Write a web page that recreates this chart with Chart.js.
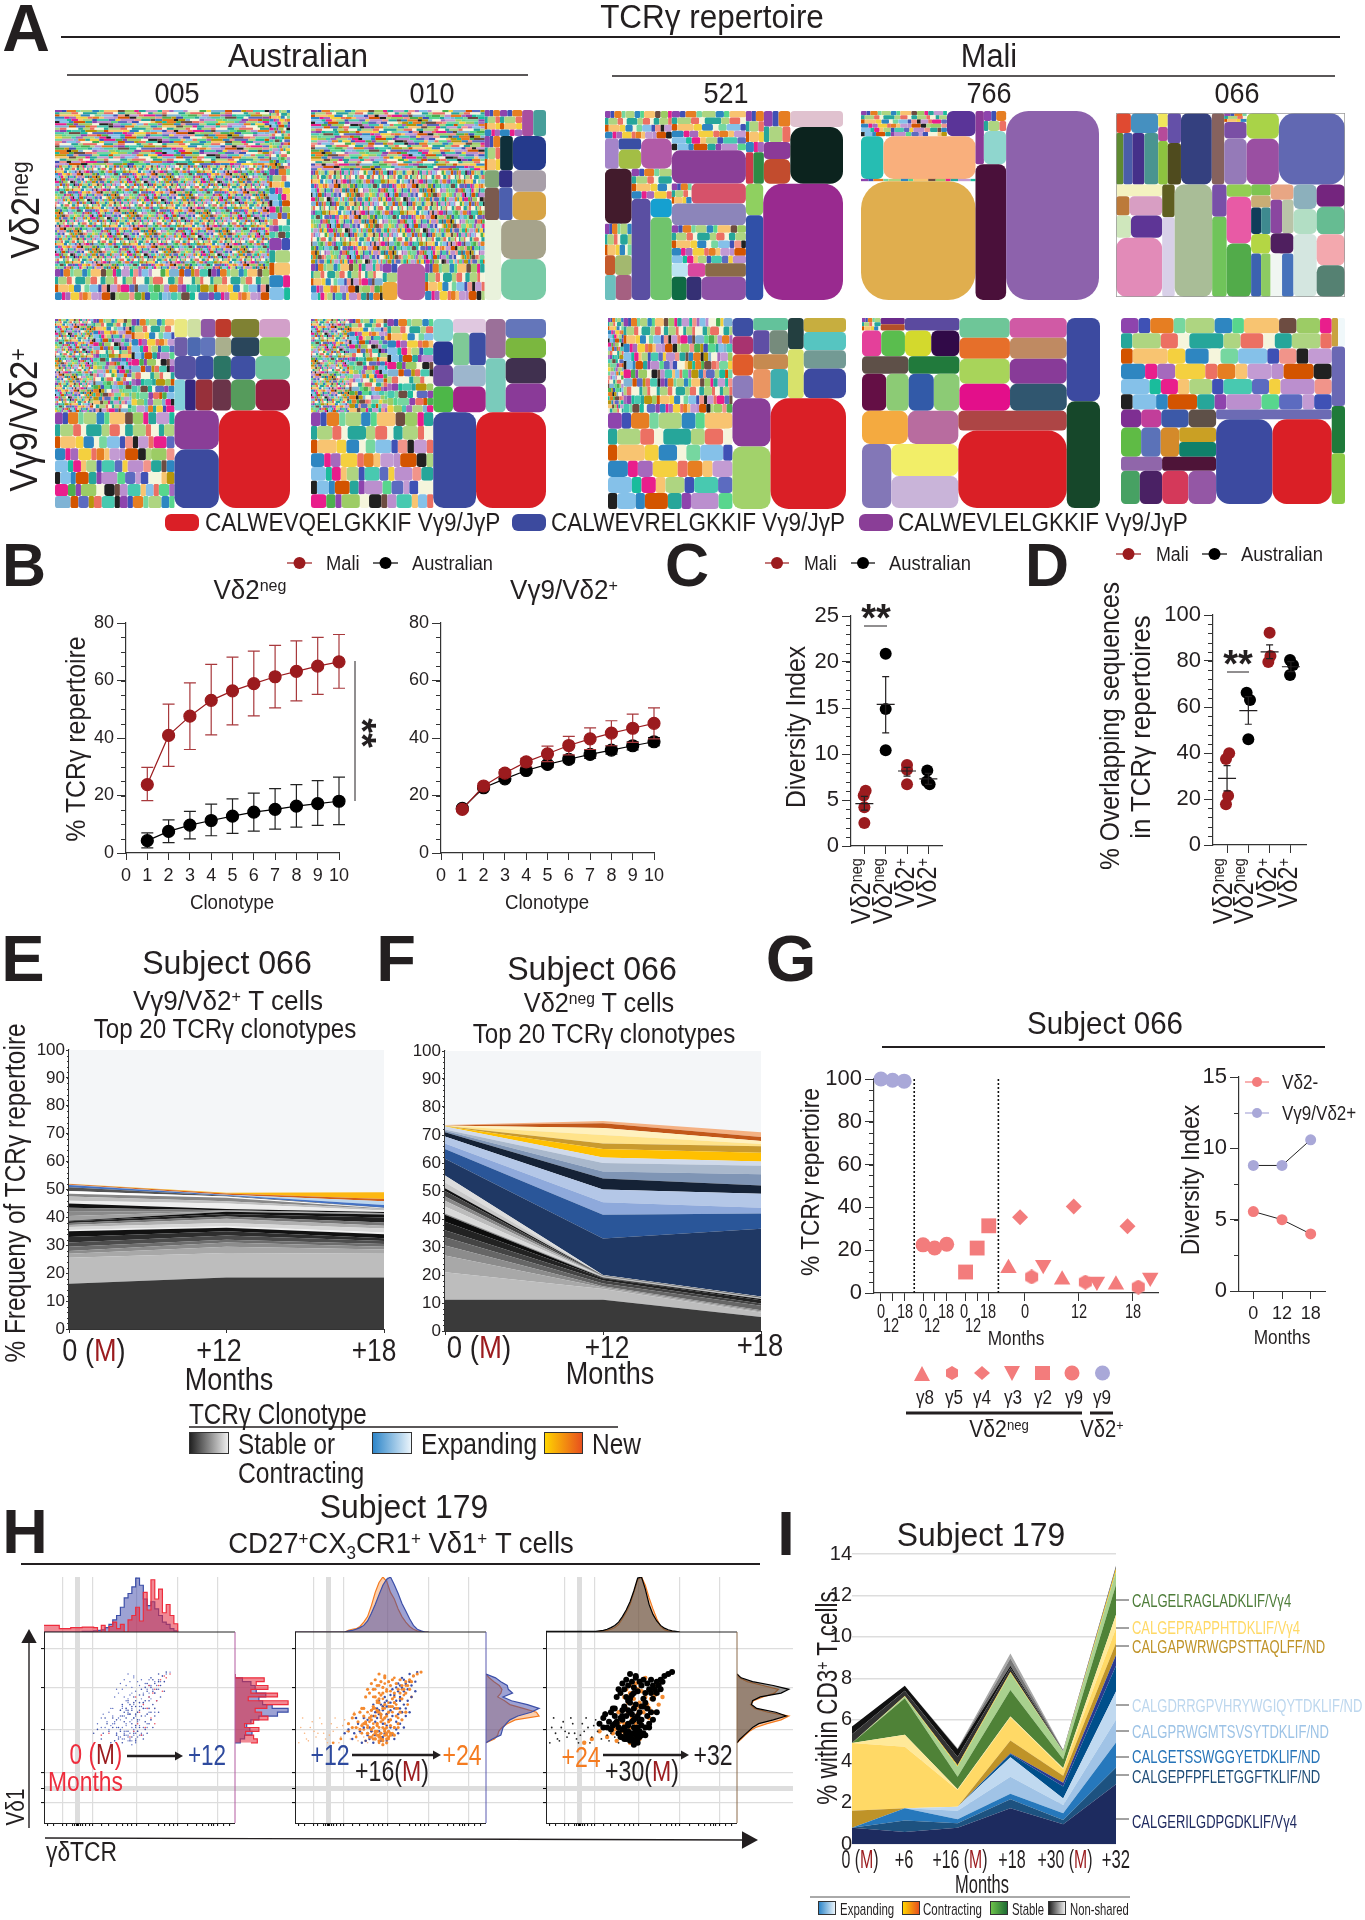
<!DOCTYPE html>
<html>
<head>
<meta charset="utf-8">
<title>TCR repertoire figure</title>
<script src="https://cdn.jsdelivr.net/npm/chart.js@4"></script>
<style>
  body { margin: 0; background: #fff; }
  #page { position: relative; width: 1365px; height: 1920px; overflow: hidden; font-family: "Liberation Sans", Arial, sans-serif; }
  #page canvas { position: absolute; }
  #over { position: absolute; left: 0; top: 0; z-index: 5; }
  .t { position: absolute; white-space: nowrap; line-height: 1; color: #231f20; z-index: 6; }
  .t sup, .t sub { font-size: .62em; line-height: 0; position: relative; vertical-align: baseline; }
  .t sup { top: -.45em; }
  .t sub { top: .3em; }
  .box { position: absolute; z-index: 4; box-sizing: border-box; }
</style>
</head>
<body>
<div id="page"></div>
<script>
// ---------- panel A: clone shares per cell, nested column / row / column ...
function T(a, n, r) { return { a: a, n: n, r: r }; } // a block of n tiny clones sharing area a

const tinyWidths = [3, 2, 4, 2, 5, 3, 2, 6, 3, 4, 2, 3, 5, 2];
const tinyColors = ['#8E44AD','#4CAF50','#E91E8C','#3F51B5','#F4D03F','#26A69A','#E67E22','#7FB3D5','#C39BD3','#76D7A0','#D35400','#1ABC9C','#AED581','#5C6BC0','#F1948A','#2E86C1','#B7950B','#A569BD','#58D68D','#EC7063','#85C1E9','#F8C471','#48C9B0','#BB8FCE','#6D4C41','#212121','#F5F5DC','#9CCC65'];

const neg005 = [[T(896,700,3.5), T(1680,3200,1), T(504,150,.7)], [T(92,120,1), T(108,45,.8), T(97,9,.5)]];
const neg005Colors = [];
const neg010 = [
  [T(794,650,3), T(1226,1300,.6), [T(196,80,.6), [T(20,3,.8),20], 76, T(163,50,.6)]],
  [[T(30,12,.8), T(43.5,12,1), 22, 25], [T(40,10,.6), 33, 86], [[19,35],[17.5,33],[54,72]], [99,[132,139]]]
];
const neg010Colors = ['#EDA93A','#B55FA5','#A94FA0','#479E9A','#0F2F3A','#253A8C','#82A675','#7B5A4E','#322F85','#4C5FAE','#A89FA9','#D7A446','#E9F2DC','#A6A38B','#79CBA6'];
const neg521 = [
  [T(112,48,1), [25,[15,26],56], [[89,T(51,18,.5),[12,20],[16.5,24]], [T(73,22,1),[116,[24,107]]]]],
  [T(177,48,1.6), 150, [T(24,10,.8),66], 97, T(172,50,1), [13,14,33], [21,21,63]],
  [[[T(45,12,.8),[14.4,20]], [T(50,7,.8),27,40], [51,182]], [[33,89],563]]
];
const neg521Colors = ['#A585C9','#3A4FA4','#A3BE45','#B15AA7','#421B2C','#C45A2C','#A3B86F','#6CC0BE','#A56081','#5A4FA2','#15A0D0','#70C46C','#8A3E97','#D6526A','#8C85BA','#BCE4F2','#D9489F','#8A6A48','#0F6B43','#353074','#8E51A5','#CF3A4B','#2F8A45','#8B3A98','#C24C2E','#E0C2CF','#0C231E','#8FD060','#3050A8','#992A8F'];
const neg766 = [
  [[T(132,90,1.5),44], [58,239], T(16,12,3), 828],
  [[27,[T(27,6,.6),45]], 253],
  1068
];
const neg766Colors = ['#5A3498','#26BDB2','#F9AF7C','#E0AE4E','#8B3A98','#8FD6CE','#4A103A','#8D62AC'];
const neg066 = [[
  [[[18,33],[23,28,37,43]], [8,8,25], [24,33], 133, 53.5, [T(12,10,1.3),22.5,62], [50,89], 285],
  [[32.5,[15.7,38],[20,42],165], [24.5,60], 254, [28,70], [18,69,79], [13,14,[16,15],23,[26,25]], [21,[23,23],28,[30,30]], [34,35,88], [38,47,53,54]]
]];
const neg066Colors = ['#E04A31','#4590C0','#5F8A32','#4A5DAA','#45308A','#4A9490','#F0E65C','#B54B9A','#8DC23F','#6450A8','#4F4B1E','#34407F','#86625E','#7A4FA5','#957AB8','#A9D348','#9A4FA2','#6168B2','#F4F2C0','#BC7A3A','#D89EC3','#CFE7BC','#5E3596','#E28BB8','#5F5E20','#D8D0E8','#A9BD97','#7850A8','#70C45A','#92CE52','#E85AA5','#52AB4A','#7DC551','#C9AD75','#0F3D5A','#3E8A8F','#B4D644','#3C62B0','#8DCB62','#E8A684','#8A46A0','#B9C4A8','#4F1F5F','#F0F6F2','#4672BB','#8CB0BC','#B2DEC4','#D4E6E0','#74257E','#66BC92','#F3A8AE','#558172'];

const pos005 = [
  [[T(270,700,1), T(270,240,1), T(302,110,.8)], T(864,110,.75)],
  [[18,18.5,20,21.7,39,42.4], [18.4,18.9,20.5,22.1,40,43.2], [38,31,31,43.5,61], [25,25,40,43,58,81], [[130,197],524]]
];
const pos005Colors = ['#E9E880','#CFE0A2','#8F58A5','#BE3A2C','#7F8133','#D2A0C9','#6E5DA8','#4D6AB1','#6175BB','#A9AF8D','#2A465B','#8ECB5E','#5552A2','#3D4FA2','#2B7565','#3F50A3','#70C69D','#84D0DA','#35287F','#97303A','#6A3449','#569B5C','#9A1D3F','#8A3E97','#3C4A9E','#DA1F26'];
const pos010 = [
  [[T(270,650,1), T(270,200,1), T(324,90,.8)], T(886,80,.75)],
  [[[33.8,35.4,32,39], [34,[40,41],52.7,63.8], [59,81.6], [58,61,78,88]], [310,507]]
];
const pos010Colors = ['#84D4CE','#28368F','#6D4A9D','#4DB748','#E0C8E0','#7FC997','#3C4FA3','#9DB6CD','#A32587','#9B7099','#7ACBBB','#6476BA','#7BB73F','#40304F','#8A3A98','#3C4A9E','#DA1F26'];
const pos521 = [
  [[T(90,140,.6), T(628,240,.55)], T(731,44,.8)],
  [[[23,22.7,27.3,28.6], [26,[24,27],31.5,[31,31]], [30,47], [36,47,47,77]], [[112,145],509]]
];
const pos521Colors = ['#3D4FA3','#A8336F','#E05C2B','#8C7CBB','#63C29B','#5F4FA5','#768B7C','#C68A50','#EA9562','#3FAEAE','#233F40','#D8E26B','#C7AE3F','#56C5C1','#739A94','#3D4AA0','#8A3E98','#A2D26B','#DA1F26'];
const pos766 = [
  [
    [[[T(14,14,1),[9,9],41], [30,37,41,44], [49,54], [54,50,56,57]], [[60,68],[64,72],[76,86],[82,92]]],
    [[[92,101],[113,[130,129]]], [130,506]]
  ],
  [167,214]
];
const pos766Colors = ['#6A2A8A','#B34F2A','#5B4A9F','#E4409A','#5ABD4E','#D3D92D','#310A48','#5E5048','#217A3C','#640F45','#8CCB75','#325AA8','#8CCB75','#6EC698','#D05AA5','#E66F2A','#BF8A62','#A8D45A','#883B98','#E30F8A','#30566F','#F4AA40','#B86C9F','#8377B7','#F2EE68','#C9B4D9','#AD4545','#DA1F26','#3C4AA0','#16472A'];
const pos066 = [
  [T(1171,62,1.25), [[[22,22,30,30],[36,35,33,[33,33]],[35,46],[38,45,53,56]], [70,[290,305]]]],
  [[11,12],48,38,41]
];
const pos066Colors = ['#7E2F92','#C23E9A','#3C59A8','#5E5048','#5FBB45','#5B72B8','#D48A2A','#CAA024','#10806A','#9066AA','#4E1438','#47A163','#4A2164','#D4395A','#9457A5','#6C6BB4','#3C4AA0','#DA1F26','#C9A23F','#F0F8FA','#6A68B4','#1F7A3A','#8CCB45'];

// ---------- panel B
const clonotypes = [1,2,3,4,5,6,7,8,9,10];
const bNegMali = [23.8,40.9,47.6,53.1,56.4,58.9,61.3,63.2,65,66.5];
const bNegMaliHigh = [29.8,51.8,59.2,65.6,68.1,70.2,72.2,73.8,75,76];
const bNegMaliLow = [18.2,30.1,36,41.1,44.6,47.7,50.5,52.9,55.2,57.3];
const bNegAus = [4.3,7.5,9.7,11.3,12.8,14.2,15.2,16.3,17.2,18];
const bNegAusHigh = [7,11.5,14.5,17,18.8,20.8,22.4,23.8,25.2,26.4];
const bNegAusLow = [1.8,3.6,4.9,6,6.8,7.6,8.3,9,9.6,9.9];
const bPosMali = [15.2,23.3,27.8,31.7,34.5,37.4,39.7,41.7,43.4,45.1];
const bPosMaliHigh = [15.5,24.2,29,32.9,37.2,40.6,43.5,46,48.3,50.5];
const bPosMaliLow = [14.4,22,26.5,30,31.8,34.1,36,37.3,38.5,39.7];
const bPosAus = [15.5,22.7,25.8,28.7,30.8,32.6,34.3,35.8,37.3,38.7];
const bPosAusHigh = [16.2,23.4,26.6,29.6,31.8,33.8,35.7,37.2,38.7,40.1];
const bPosAusLow = [14.8,22,25,27.8,29.8,31.4,32.9,34.4,35.9,37.3];

// ---------- panels C, D
const groupPositions = [1,2,3,4];
const cMaliNegX = [1.06,.97,1,1], cMaliNeg = [6,5.5,4.2,2.5];
const cAusNegX = [2,2,2], cAusNeg = [20.9,14.9,10.4];
const cMaliPosX = [3,3,3], cMaliPos = [8.8,8.3,6.7];
const cAusPosX = [3.95,3.93,4.06], cAusPos = [8.2,7,6.7];
const cMeans = [4.6,15.4,8.15,7.3], cHigh = [5.4,18.4,8.55,7.9], cLow = [3.9,12.3,7.6,6.7];
const dMaliNegX = [1.1,.95,1.05,.95], dMaliNeg = [39.9,37.4,21.4,17.7];
const dAusNegX = [1.92,2.08,2], dAusNeg = [66.2,63,46];
const dMaliPosX = [3,3.04,2.94], dMaliPos = [92.3,82.2,79.6];
const dAusPosX = [3.96,4.1,3.96], dAusPos = [80.4,78.3,73.9];
const dMeans = [29,58.4,84,77.5], dHigh = [34.5,64.5,87,79.7], dLow = [23.5,52.5,81,75.4];

// ---------- panels E, F (top edge of each clonotype band, at 0, +12, +18 months)
const stackMonths = ['0','+12','+18'];
const eBands = [[16.2,18.5,18.5],[25.5,27.2,27],[27,29.5,28.5],[28,31,29.5],[29.5,32,30.5],[31,33.5,31.5],[33,35,32.5],[35,36.3,34],[35.5,36.8,34.6],[36.6,38,36],[37.3,39.5,37],[38,40.3,38.2],[38.6,41.2,40],[38.8,42,41],[40.5,42.2,41.2],[42,42.4,41.4],[43.5,42.6,41.6],[45,43,41.9],[46,45,42.5],[47.5,45.8,43],[48.5,47,43.2],[49.5,47.5,43.4],[50.8,47.8,43.5],[51.6,48,44.4],[51.7,48.1,45.8],[52,48.6,46.6],[52.1,48.8,49]];
const eColors = ['#3A3A3A','#BDBDBD','#A8A8A8','#8C8C8C','#6D6D6D','#4D4D4D','#2E2E2E','#111111','#F0F0F0','#D8D8D8','#B0B0B0','#777777','#222222','#111111','#A0A0A0','#8A8A8A','#777777','#111111','#EEEEEE','#C0C0C0','#888888','#FFFFFF','#555555','#4472C4','#BDD7EE','#D2601A','#FDB813'];
const fBands = [[11.2,11.2,5],[21,15,6.6],[27,15.5,7],[30.5,16,7.4],[33.5,17,9],[36,18,9.8],[39,18.8,11],[41.5,19,11.4],[42,19.3,11.6],[44.5,19.4,11.7],[46.5,19.5,11.8],[48,19.6,11.9],[50,19.7,12],[51,19.8,12.1],[53,19.9,12.2],[55.5,20,12.3],[61.5,33,36.5],[65,41.5,42],[67,46,44],[69.5,50.5,49],[71,54.5,52],[71.5,57,56],[72,60,59],[73,62,60.5],[73.1,65,63.7],[73.2,67,66],[73.3,70,66.8],[73.4,72.5,67.9],[73.5,74.2,69.3],[73.6,75,71]];
const fColors = ['#3A3A3A','#BDBDBD','#A8A8A8','#8C8C8C','#666666','#444444','#222222','#0C0C0C','#888888','#D9D9D9','#BBBBBB','#888888','#444444','#111111','#C8C8C8','#DDDDDD','#1F3864','#2A5699','#8EA9DB','#B4C7E7','#152236','#7F95B5','#A9B8CC','#D0DAEA','#FFC000','#C99A2E','#FFE38A','#FFF1BF','#C2571A','#F4B183'];

// ---------- panel G (x is the slot along the axis)
const gDividers = [3.87,11.13];
const gTickSlots = [1,2,3,4.63,5.63,6.67,8.3,9.3,10.3,13.4,18.07,22.73];
const gV2Slots = [1,2,3], gV2 = [100,99.4,99];
const gG9Slots = [4.63,5.63,6.67], gG9 = [22.5,21,22.8];
const gG2Slots = [8.3,9.3,10.3], gG2 = [9.8,21,31.4];
const gG8Slots = [12,16.63,21.27], gG8 = [11.6,6.2,3.9];
const gG4Slots = [13,17.63,22.27], gG4 = [35.4,40.4,31.2];
const gG5Slots = [14,18.63,23.2], gG5 = [7.5,5.1,2.8];
const gG3Slots = [15,19.63,24.23], gG3 = [13.2,5.4,7.3];
const gMonths = ['0','12','18'];
const gDivNeg = [5.57,5,4], gDivPos = [8.8,8.8,10.6];

// ---------- panel H
const flowMajorX = [9.5,17.5,25.7,48.6,69.9,90.7];
const flowMinorX = [2,5,12,15,16,17,18,19,20,22,24,30,34,38,41,44,46,55,60,63,66,68,75,80,83,86,88,89,94,97];
const flowMajorY = [91.3,70.7,49,26.5,18.3,10.5];
const blueX = [46,44,48,43,47,50,41,45,49,42,52,44,47,40,51,46,43,48,50,38,53,45,41,49,46,44,48,47,42,50,56,58,54,57,60,55,53,59,62,58,52,61,55,63,56,54,57,60,64,51,50,53,47,55,51,44,48,56,58,53,46,42,60,49,54,57,40,38,36,34,33,36,37,31,30,28,35,39,32,39,41,45,26,52,48,55,57,54,59,61,56,58,63,52,55];
const blueY = [59,57,61,60,55,63,56,62,58,53,60,64,66,59,56,52,55,64,67,54,64,57,62,54,61,59,57,63,58,59,71,73,69,75,74,72,71,70,77,68,67,72,66,74,76,73,69,78,79,70,50,49,47,52,46,48,51,54,56,53,45,46,58,48,47,50,48,46,50,48,52,55,43,47,44,49,42,50,55,44,42,43,47,44,43,60,62,57,64,66,58,60,69,63,64];
const redX = [52,55,58,60,63,49,54,57,61,47,50,59,56,62,64,53,45,51,58,66,48,55,30,34];
const redY = [62,66,70,72,77,52,60,68,75,48,58,64,55,69,76,50,45,46,52,78,66,72,46,47];
const orangeX = [45,43,47,41,49,44,46,40,48,42,50,38,52,45,47,43,41,49,36,44,46,51,39,42,48,53,55,50,47,45,56,58,54,60,57,52,44,40,37,35,32,28,24,20,47,50,44,41,54,43,48,46,52,38,56,59,49,61,42,45];
const orangeY = [55,58,60,52,63,50,65,56,57,60,54,51,66,47,49,63,46,61,49,68,44,58,53,44,70,62,65,47,52,56,70,72,60,74,67,50,42,48,43,47,45,48,44,42,73,69,72,66,55,52,46,61,76,58,58,62,44,66,70,45];
const blackCoreX = [43,41,45,39,47,42,44,40,46,48,43,38,50,41,45,42,47,44,52,40,37,49,51,54,46,43,56,48,58,60,62,64,66,55,57,59,61,53,50,44,42,40,46,48,52,54,38,36,41,43,45,47,49,50,52,54,56,58,44,46,42,40,38,48,41,43,45,47,49,44,46,48,42,40,50,52,51,53,55,47,49,51,56,58,60,45,43,39,37,35,53,55,47,50,44,46,28,30,32,34,36,30,33,35,37,31,34,38,36,39,41,43,45,47,49,51,40,42,44,46,48];
const blackCoreY = [72,70,74,68,76,66,78,73,71,69,64,70,72,60,67,75,62,63,68,56,66,58,65,70,54,52,72,50,74,75,77,78,79,68,70,72,74,60,54,58,56,54,60,56,50,52,50,52,50,48,47,46,48,46,46,50,54,58,45,43,47,45,47,44,61,59,57,55,53,43,41,42,44,59,61,63,75,73,75,77,74,61,65,68,70,53,51,55,53,51,56,58,49,51,65,68,52,55,50,58,56,50,53,60,52,57,49,47,60,45,44,46,44,48,45,47,49,48,46,50,47];
const tailX = [39,37,35,33,30,34,32,28,36,31,26,22,18,14,10,6,3,24,20,16,12,8,27,23,19,15,11,7,25,21,29,33,17,5,9,13,4,2,31,38];
const tailY = [57,55,52,50,50,47,46,52,45,55,54,50,46,52,48,44,50,45,48,44,47,50,48,42,52,47,45,43,51,55,44,43,42,47,53,55,55,42,58,42];
const histX = [0,8,14,20,26,28,30,32,34,36,38,40,42,44,46,48,50,52,54,56,58,60,62,64,66,68,70];
const p1Blue = [0,0,0,1,2,3,4,8,14,22,30,45,62,70,82,98,85,60,48,55,42,30,18,14,6,2,0];
const p1Red = [12,6,8,9,8,0,12,0,10,18,6,14,0,22,30,45,20,72,40,95,60,78,35,50,30,15,0];
const p2Blue = [0,0,0,0,0,2,3,5,8,12,20,34,50,68,85,96,100,86,70,52,38,24,12,5,2,0,0];
const p2Orange = [0,0,0,0,0,3,5,6,10,18,28,48,72,90,100,92,72,60,42,28,18,10,5,2,1,0,0];
const p3Black = [1,1,1,1,1,2,3,5,8,12,18,28,40,55,75,98,100,78,50,32,20,12,7,4,2,1,0];
const p3Orange = [0,0,0,0,0,1,2,3,5,8,14,24,36,50,72,95,100,85,62,42,24,10,4,2,1,0,0];
const histY = [42,44,46,48,50,52,54,56,58,60,62,64,66,68,70,72,74,76,78];
const p1BlueR = [0,10,18,32,28,22,30,45,80,100,70,52,45,58,40,38,30,14,0];
const p1RedR = [30,42,35,20,45,18,35,62,50,38,60,100,25,80,30,62,40,55,0];
const p2BlueR = [0,12,28,30,32,38,45,60,85,100,78,48,32,50,42,40,28,18,0];
const p2OrangeR = [0,16,22,24,30,40,55,100,95,70,45,35,22,28,30,25,15,6,0];
const p3BlackR = [0,6,14,22,30,42,70,95,75,38,28,30,45,85,100,70,30,8,0];
const p3OrangeR = [0,8,16,24,36,58,85,100,60,34,26,32,50,72,80,50,20,5,0];

// ---------- panel I
const iMonths = ['0','+6','+16','+18','+30','+32'];
const iBands = [[.79,.58,.79,1.72,.95,2.88],[.79,1.13,1,2.16,1.16,3.69],[.79,1.72,1.19,2.42,1.48,4.9],[.79,1.72,1.61,3.25,1.88,6],[.79,1.72,1.8,4.19,2.2,7.36],[.79,1.72,1.8,4.35,2.77,8.6],[.79,1.72,1.8,4.38,2.96,9.13],[1.6,1.72,1.8,5,3.29,9.7],[4.87,4.7,2.61,6.12,3.61,10.42],[4.87,5.27,2.64,6.15,3.66,11.07],[4.87,7.04,3.25,7.44,4.09,12.52],[4.87,7.12,3.74,8.25,4.46,13.16],[4.87,7.15,3.8,8.3,4.46,13.3],[5.3,7.4,4.2,8.5,4.48,13.35],[5.67,7.64,4.57,8.6,4.5,13.4],[5.67,7.64,4.6,8.95,4.52,13.42],[5.67,7.64,4.62,9.2,4.54,13.44]];
const iColors = ['#1D2B5F','#1D5280','#2678BC','#A0C3E6','#C0D9F0','#004F8B','#2A3A90','#BF9328','#FFD966','#FFE999','#4F8237','#A9D18E','#FFC000','#333333','#111111','#777777','#AAAAAA'];
const iClones = ['CALGELRAGLADKLIF/V&gamma;4','CALGEPRAPPHTDKLIF/V&gamma;4','CALGAPWRWGPSTTAQLFF/ND','CALGDRRGPVHRYWGIQYTDKLIF/ND','CALGPRWGMTSVSYTDKLIF/ND','CALGETSSWGGYETDKLIF/ND','CALGEPFPFLETGGFTKLIF/ND','CALGERILGDPGDKLIF/V&gamma;4'];

// ---------- helpers
const page = document.getElementById('page');
const ink = '#231f20', maliRed = '#9B1B1E', pink = '#F37C7C', lav = '#A9A8D8', axisInk = '#333';
Chart.defaults.animation = false;
Chart.defaults.font.family = '"Liberation Sans", Arial, sans-serif';
Chart.defaults.color = ink;
Chart.defaults.plugins.legend.display = false;
Chart.defaults.plugins.tooltip.enabled = false;
// plots sit at exact page positions, so markers must not push the chart area in
['line', 'scatter'].forEach(k => { Chart.registry.getController(k).prototype.getMaxOverflow = () => 0; });

Chart.register({
  id: 'minorTicks',
  afterDraw(chart, a, o) {
    if (!o.step) return;
    const s = chart.scales.y, ctx = chart.ctx;
    ctx.save(); ctx.strokeStyle = axisInk; ctx.lineWidth = 1; ctx.beginPath();
    for (let v = s.min; v <= s.max + 1e-6; v += o.step) {
      const y = Math.round(s.getPixelForValue(v)) + .5;
      ctx.moveTo(s.right - o.len, y); ctx.lineTo(s.right, y);
    }
    ctx.stroke(); ctx.restore();
  }
});
Chart.register({
  id: 'plotBg',
  beforeDatasetsDraw(chart, a, o) {
    if (!o.color) return;
    const c = chart.chartArea;
    chart.ctx.fillStyle = o.color;
    chart.ctx.fillRect(c.left, c.top, c.right - c.left, c.bottom - c.top);
  }
});
Chart.register({
  id: 'errorBars',
  beforeDatasetDraw(chart, args) {
    const d = chart.data.datasets[args.index];
    if (!d.errLow) return;
    const xs = chart.scales.x, ys = chart.scales.y, ctx = chart.ctx;
    ctx.save(); ctx.strokeStyle = d.errColor; ctx.lineWidth = 1.2; ctx.beginPath();
    d.data.forEach((p, i) => {
      const x = xs.getPixelForValue(p.x), hi = ys.getPixelForValue(d.errHigh[i]), lo = ys.getPixelForValue(d.errLow[i]);
      ctx.moveTo(x, hi); ctx.lineTo(x, lo);
      ctx.moveTo(x - d.capW, hi); ctx.lineTo(x + d.capW, hi);
      ctx.moveTo(x - d.capW, lo); ctx.lineTo(x + d.capW, lo);
      if (d.meanW) { const m = ys.getPixelForValue(p.y); ctx.moveTo(x - d.meanW, m); ctx.lineTo(x + d.meanW, m); }
    });
    ctx.stroke(); ctx.restore();
  }
});
const treeCells = {
  id: 'treeCells',
  afterDatasetsDraw(chart) {
    const xs = chart.scales.x, ys = chart.scales.y, ctx = chart.ctx;
    ctx.save();
    chart.data.datasets[0].data.forEach(p => {
      const c = p.cell, x = xs.getPixelForValue(c.x0), y = ys.getPixelForValue(c.y0);
      const w = xs.getPixelForValue(c.x1) - x, h = ys.getPixelForValue(c.y1) - y, m = Math.min(w, h);
      ctx.fillStyle = c.c;
      ctx.beginPath();
      if (m < 4) ctx.rect(x, y, w, h); else ctx.roundRect(x, y, w, h, m * .24);
      ctx.fill();
    });
    const f = chart.options.plugins.treeCells && chart.options.plugins.treeCells.frame;
    if (f) { ctx.strokeStyle = '#999'; ctx.lineWidth = 1.5; ctx.strokeRect(xs.left, ys.top, xs.right - xs.left, ys.bottom - ys.top); }
    ctx.restore();
  }
};

// l, t, r, b are the edges of the plot on the page, m = room for axes [left, top, right, bottom]
function addChart(l, t, r, b, m, config) {
  const c = document.createElement('canvas');
  c.width = r - l + m[0] + m[2];
  c.height = b - t + m[1] + m[3];
  c.style.left = (l - m[0]) + 'px';
  c.style.top = (t - m[1]) + 'px';
  page.appendChild(c);
  const o = config.options = config.options || {};
  o.responsive = false;
  o.layout = { autoPadding: false, padding: { left: 0, top: m[1], right: m[2], bottom: 0 } };
  Object.values(o.scales).forEach(s => {
    s.afterFit = a => {
      if (a.isHorizontal()) a.height = m[3]; else a.width = m[0];
      a.paddingTop = a.paddingBottom = a.paddingLeft = a.paddingRight = 0; // tick labels may hang over the plot edge
    };
  });
  return new Chart(c, config);
}
function zip(xs, ys) { return xs.map((x, i) => ({ x: x, y: ys[i] })); }
function hiddenAxis(min, max, reverse) { return { type: 'linear', display: false, min: min, max: max, reverse: !!reverse }; }
function axis(min, max, step, size, len, pad) {
  return {
    type: 'linear', min: min, max: max,
    grid: { drawOnChartArea: false, color: axisInk, tickLength: len, tickWidth: 1 },
    border: { color: axisInk, width: 1.2 },
    ticks: { stepSize: step, font: { size: size }, padding: pad, autoSkip: false, maxRotation: 0, color: ink }
  };
}
function slotAxis(min, max, slots, len) {
  const a = axis(min, max, 1, 10, len, 0);
  a.afterBuildTicks = s => { s.ticks = slots.map(v => ({ value: v })); };
  a.ticks.callback = () => '';
  return a;
}

// text: x, y is the centre unless o.a says left / right; o.w squeezes it to a measured width
function tx(html, x, y, size, o) {
  o = o || {};
  const e = document.createElement('div');
  e.className = 't';
  e.innerHTML = html;
  e.style.fontSize = size + 'px';
  e.style.left = x + 'px';
  e.style.top = y + 'px';
  if (o.c) e.style.color = o.c;
  if (o.b) e.style.fontWeight = 'bold';
  page.appendChild(e);
  const k = o.w ? o.w / e.offsetWidth : 1;
  const ax = o.a === 'l' ? '0' : o.a === 'r' ? '-100%' : '-50%';
  if (o.a === 'l') e.style.transformOrigin = '0 50%';
  if (o.a === 'r') e.style.transformOrigin = '100% 50%';
  e.style.transform = 'translate(' + ax + ',-50%) rotate(' + (o.rot || 0) + 'deg) scaleX(' + k + ')';
  return e;
}
const svgNS = 'http://www.w3.org/2000/svg';
const over = document.createElementNS(svgNS, 'svg');
over.setAttribute('id', 'over'); over.setAttribute('width', 1365); over.setAttribute('height', 1920);
page.appendChild(over);
function svg(tag, attrs) {
  const e = document.createElementNS(svgNS, tag);
  Object.keys(attrs).forEach(k => e.setAttribute(k, attrs[k]));
  over.appendChild(e);
  return e;
}
function line(x1, y1, x2, y2, c, w) { svg('line', { x1: x1, y1: y1, x2: x2, y2: y2, stroke: c || ink, 'stroke-width': w || 1 }); }
function arrow(x1, y1, x2, y2, w, head) {
  const a = Math.atan2(y2 - y1, x2 - x1), hl = head, hw = head * .55;
  const bx = x2 - Math.cos(a) * hl, by = y2 - Math.sin(a) * hl;
  line(x1, y1, bx, by, ink, w);
  svg('polygon', { fill: ink, points: [x2, y2, bx - Math.sin(a) * hw, by + Math.cos(a) * hw, bx + Math.sin(a) * hw, by - Math.cos(a) * hw].join(' ') });
}
function legendDot(x1, x2, y, c, r) { line(x1, y, x2, y, c, 1.2); svg('circle', { cx: (x1 + x2) / 2, cy: y, r: r || 6, fill: c }); }
function box(x, y, w, h, css) {
  const e = document.createElement('div');
  e.className = 'box';
  e.style.cssText = 'left:' + x + 'px;top:' + y + 'px;width:' + w + 'px;height:' + h + 'px;' + css;
  page.appendChild(e);
}

// ---------- treemap layout: depth 0 splits along x, depth 1 along y, and so on
function total(n) { return typeof n === 'number' ? n : Array.isArray(n) ? n.reduce((s, k) => s + total(k), 0) : n.a; }
function layoutCells(tree, colors, wpx, hpx) {
  const out = [];
  let ci = 0;
  function tile(n, x0, y0, x1, y1) {
    const pw = (x1 - x0) / 100 * wpx, ph = (y1 - y0) / 100 * hpx;
    const cols = Math.max(1, Math.round(Math.sqrt(n.n * (pw / ph) / n.r)));
    const rows = Math.max(1, Math.round(n.n / cols));
    for (let i = 0; i < rows; i++) {
      const ya = y0 + (y1 - y0) * i / rows, yb = y0 + (y1 - y0) * (i + 1) / rows;
      let tot = 0;
      for (let j = 0; j < cols; j++) tot += tinyWidths[(j + i * 3) % tinyWidths.length];
      let p = x0;
      for (let j = 0; j < cols; j++) {
        const q = p + (x1 - x0) * tinyWidths[(j + i * 3) % tinyWidths.length] / tot;
        out.push({ x0: p, y0: ya, x1: q, y1: yb, c: tinyColors[(i * 5 + j * 3 + ((i * j) % 7) * 4) % tinyColors.length] });
        p = q;
      }
    }
  }
  function walk(n, x0, y0, x1, y1, d) {
    if (typeof n === 'number') { out.push({ x0: x0, y0: y0, x1: x1, y1: y1, c: colors[ci++ % colors.length] }); return; }
    if (!Array.isArray(n)) { tile(n, x0, y0, x1, y1); return; }
    const tot = total(n);
    let p = d % 2 ? y0 : x0;
    n.forEach(k => {
      const f = total(k) / tot;
      if (d % 2) { const q = p + (y1 - y0) * f; walk(k, x0, p, x1, q, d + 1); p = q; }
      else { const q = p + (x1 - x0) * f; walk(k, p, y0, q, y1, d + 1); p = q; }
    });
  }
  walk(tree, 0, 0, 100, 100, 0);
  return out;
}
function treemap(l, t, r, b, tree, colors, frame) {
  const cells = layoutCells(tree, colors, r - l, b - t);
  addChart(l, t, r, b, [0, 0, 0, 0], {
    type: 'scatter',
    data: { datasets: [{ data: cells.map(c => ({ x: (c.x0 + c.x1) / 2, y: (c.y0 + c.y1) / 2, cell: c })), pointRadius: 0 }] },
    options: { plugins: { treeCells: { frame: frame } }, scales: { x: hiddenAxis(0, 100), y: hiddenAxis(0, 100, true) } },
    plugins: [treeCells]
  });
}

// ---------- panel A
treemap(55, 110, 290, 300, neg005, neg005Colors);
treemap(311, 110, 546, 300, neg010, neg010Colors);
treemap(605, 111, 843, 300, neg521, neg521Colors);
treemap(861, 111, 1099, 300, neg766, neg766Colors);
treemap(1116, 113, 1345, 297, neg066, neg066Colors, true);
treemap(55, 319, 290, 508, pos005, pos005Colors);
treemap(311, 319, 546, 508, pos010, pos010Colors);
treemap(608, 318, 846, 509, pos521, pos521Colors);
treemap(862, 318, 1100, 508, pos766, pos766Colors);
treemap(1121, 318, 1345, 504, pos066, pos066Colors);

const letters = [['A',26,28,66],['B',24,565,61],['C',687,565,61],['D',1047,565,61],['E',23,958,65],['F',396,958,65],['G',791,958,65],['H',25,1531,63],['I',786,1533,63]];
letters.forEach(a => tx(a[0], a[1], a[2], a[3], { b: 1 }));

tx('TCR&gamma; repertoire', 712, 16, 33, { w: 224 });
line(61, 37, 1340, 37, ink, 2);
tx('Australian', 298, 55, 34, { w: 140 });
line(67, 75, 528, 75, ink, 1.6);
tx('Mali', 989, 55, 34, { w: 56 });
line(612, 76, 1335, 76, ink, 1.6);
[['005',177],['010',432],['521',726],['766',989],['066',1237]].forEach(a => tx(a[0], a[1], 93, 30, { w: 45 }));
tx('V&delta;2<sup>neg</sup>', 25, 210, 40, { rot: -90, w: 98 });
tx('V&gamma;9/V&delta;2<sup>+</sup>', 24, 420, 38, { rot: -90, w: 143 });
box(165, 514, 34, 17, 'background:#DA1F26;border-radius:6px');
tx('CALWEVQELGKKIF V&gamma;9/J&gamma;P', 205, 522, 25, { a: 'l', w: 295 });
box(512, 514, 34, 17, 'background:#3C4A9E;border-radius:6px');
tx('CALWEVRELGKKIF V&gamma;9/J&gamma;P', 551, 522, 25, { a: 'l', w: 294 });
box(859, 514, 34, 17, 'background:#8A3E97;border-radius:6px');
tx('CALWEVLELGKKIF V&gamma;9/J&gamma;P', 898, 522, 25, { a: 'l', w: 290 });

// ---------- panel B
function clonoChart(l, r, mali, mHi, mLo, aus, aHi, aLo) {
  const x = axis(0, 10, 1, 18, 7, 5), y = axis(0, 80, 20, 18, 9, 3);
  addChart(l, 623, r, 853, [50, 14, 20, 40], {
    type: 'line',
    data: { datasets: [
      { data: zip(clonotypes, mali), borderColor: maliRed, backgroundColor: maliRed, borderWidth: 1.2, pointRadius: 6, clip: false, errLow: mLo, errHigh: mHi, errColor: '#A8393C', capW: 6 },
      { data: zip(clonotypes, aus), borderColor: '#000', backgroundColor: '#000', borderWidth: 1.2, pointRadius: 6, clip: false, errLow: aLo, errHigh: aHi, errColor: '#222', capW: 6 }
    ] },
    options: { plugins: { minorTicks: { step: 5, len: 5 } }, scales: { x: x, y: y } }
  });
}
clonoChart(126, 339, bNegMali, bNegMaliHigh, bNegMaliLow, bNegAus, bNegAusHigh, bNegAusLow);
clonoChart(441, 654, bPosMali, bPosMaliHigh, bPosMaliLow, bPosAus, bPosAusHigh, bPosAusLow);
legendDot(287, 312, 563, maliRed);
tx('Mali', 326, 563, 20, { a: 'l', w: 34 });
legendDot(373, 398, 563, '#000');
tx('Australian', 412, 563, 20, { a: 'l', w: 81 });
tx('V&delta;2<sup>neg</sup>', 250, 590, 27, { w: 73 });
tx('V&gamma;9/V&delta;2<sup>+</sup>', 564, 590, 27, { w: 108 });
tx('Clonotype', 232, 902, 20, { w: 84 });
tx('Clonotype', 547, 902, 20, { w: 84 });
tx('% TCR&gamma; repertoire', 76, 739, 28, { rot: -90, w: 205 });
line(355, 661, 355, 801, ink, 1);
tx('**', 362, 733, 38, { b: 1, rot: 90 });

// ---------- panels C, D
function dotChart(l, t, r, b, xMin, xMax, yMax, yStep, groups, means, hi, lo) {
  const ds = [{ data: zip(groupPositions, means), pointRadius: 0, errLow: lo, errHigh: hi, errColor: ink, capW: 3.5, meanW: 9 }];
  groups.forEach(g => ds.push({ data: zip(g[0], g[1]), backgroundColor: g[2], pointRadius: 6, borderWidth: 0, clip: false }));
  addChart(l, t, r, b, [50, 14, 6, 14], {
    type: 'scatter',
    data: { datasets: ds },
    options: { plugins: { minorTicks: { step: yStep / 5, len: 5 } }, scales: { x: slotAxis(xMin, xMax, groupPositions, 8), y: axis(0, yMax, yStep, 22, 9, 3) } }
  });
}
dotChart(851, 616, 942, 846, .374, 4.64, 25, 5, [[cMaliNegX, cMaliNeg, maliRed], [cAusNegX, cAusNeg, '#000'], [cMaliPosX, cMaliPos, maliRed], [cAusPosX, cAusPos, '#000']], cMeans, cHigh, cLow);
dotChart(1213, 615, 1306, 845, .34, 4.71, 100, 20, [[dMaliNegX, dMaliNeg, maliRed], [dAusNegX, dAusNeg, '#000'], [dMaliPosX, dMaliPos, maliRed], [dAusPosX, dAusPos, '#000']], dMeans, dHigh, dLow);
legendDot(765, 789, 563, maliRed);
tx('Mali', 804, 563, 20, { a: 'l', w: 33 });
legendDot(851, 875, 563, '#000');
tx('Australian', 889, 563, 20, { a: 'l', w: 82 });
legendDot(1116, 1141, 554, maliRed);
tx('Mali', 1156, 554, 20, { a: 'l', w: 33 });
legendDot(1202, 1227, 554, '#000');
tx('Australian', 1241, 554, 20, { a: 'l', w: 82 });
tx('Diversity Index', 796, 727, 27, { rot: -90, w: 162 });
tx('% Overlapping sequences', 1110, 726, 27, { rot: -90, w: 288 });
tx('in TCR&gamma; repertoires', 1141, 727, 27, { rot: -90, w: 224 });
tx('**', 876, 618, 38, { b: 1 });
line(864, 626, 887, 626, ink, 1);
tx('**', 1238, 664, 38, { b: 1 });
line(1227, 672, 1249, 672, ink, 1);
[[861, 1], [883, 1], [905, 0], [927, 0], [1223, 1], [1244, 1], [1267, 0], [1288, 0]].forEach(a => {
  if (a[1]) tx('V&delta;2<sup>neg</sup>', a[0], 891, 28, { rot: -90, w: 66 });
  else tx('V&delta;2<sup>+</sup>', a[0], 883, 28, { rot: -90, w: 50 });
});

// ---------- panels E, F, I
function bandDatasets(bands, colors) {
  return bands.map((b, i) => ({ data: b, backgroundColor: colors[i], borderWidth: 0, pointRadius: 0, tension: 0, fill: i ? '-1' : 'origin' }));
}
function stackChart(l, t, r, b, bands, colors) {
  const y = axis(0, 100, 10, 17, 3, 1);
  const x = { type: 'category', offset: false, grid: { drawOnChartArea: false, color: axisInk, tickLength: 4 }, border: { color: axisInk }, ticks: { callback: () => '' } };
  addChart(l, t, r, b, [40, 12, 4, 12], {
    type: 'line',
    data: { labels: stackMonths, datasets: bandDatasets(bands, colors) },
    options: { plugins: { plotBg: { color: '#F4F6F8' }, minorTicks: { step: 2, len: 2 } }, scales: { x: x, y: y } }
  });
}
stackChart(69, 1050, 384, 1329, eBands, eColors);
stackChart(445, 1051, 761, 1331, fBands, fColors);
const M = '<span style="color:#9B1B1E">M</span>';
tx('Subject 066', 227, 962, 34, { w: 170 });
tx('V&gamma;9/V&delta;2<sup>+</sup> T cells', 228, 1001, 28, { w: 190 });
tx('Top 20 TCR&gamma; clonotypes', 225, 1029, 27, { w: 263 });
tx('Subject 066', 592, 968, 34, { w: 170 });
tx('V&delta;2<sup>neg</sup> T cells', 599, 1003, 28, { w: 150 });
tx('Top 20 TCR&gamma; clonotypes', 604, 1034, 27, { w: 263 });
tx('% Frequeny of TCR&gamma; repertoire', 15, 1193, 30, { rot: -90, w: 339 });
tx('0 (' + M + ')', 94, 1350, 31, { w: 63 });
tx('+12', 219, 1350, 31, { w: 46 });
tx('+18', 374, 1350, 31, { w: 45 });
tx('Months', 229, 1379, 31, { w: 89 });
tx('0 (' + M + ')', 479, 1347, 31, { w: 64 });
tx('+12', 607, 1347, 31, { w: 45 });
tx('+18', 760, 1345, 31, { w: 47 });
tx('Months', 610, 1373, 31, { w: 89 });
tx('TCR&gamma; Clonotype', 189, 1414, 29, { a: 'l', w: 178 });
line(189, 1427, 618, 1427, ink, 1.4);
box(189, 1432, 40, 22, 'border:1px solid #333;background:linear-gradient(90deg,#222,#eee)');
tx('Stable or', 238, 1444, 29, { a: 'l', w: 97 });
tx('Contracting', 238, 1473, 29, { a: 'l', w: 126 });
box(372, 1432, 40, 22, 'border:1px solid #333;background:linear-gradient(90deg,#2E86C9,#EAF4FB)');
tx('Expanding', 421, 1444, 29, { a: 'l', w: 116 });
box(544, 1432, 39, 22, 'border:1px solid #333;background:linear-gradient(90deg,#FFD400,#E8501E)');
tx('New', 592, 1444, 29, { a: 'l', w: 49 });

// panel I
{
  const y = axis(0, 14, 2, 20, 0, 0);
  y.grid = { color: '#DDDDDD', lineWidth: 1.5, drawTicks: false };
  y.border = { display: false };
  const x = { type: 'category', offset: false, grid: { display: false }, border: { display: false }, ticks: { callback: () => '' } };
  addChart(852, 1554, 1116, 1844, [30, 14, 4, 14], {
    type: 'line',
    data: { labels: iMonths, datasets: bandDatasets(iBands, iColors) },
    options: { scales: { x: x, y: y } }
  });
  const ly = [1600, 1627, 1646, 1705, 1731, 1756, 1776, 1821];
  const lt = [1600, 1628, 1646, 1705, 1731, 1757, 1775, 1819];
  const lw = [159, 168, 193, 230, 197, 188, 188, 165];
  const lc = ['#4E7D3A', '#FFD966', '#BF9328', '#BDD7EE', '#9DC3E6', '#2674B8', '#1F4E79', '#1F2A60'];
  iClones.forEach((s, i) => {
    line(1116, lt[i], 1129, lt[i], '#444', 1);
    tx(s, 1132, ly[i], 19, { a: 'l', w: lw[i], c: lc[i] });
  });
  tx('Subject 179', 981, 1534, 33, { w: 168 });
  tx('% within CD3<sup>+</sup> T cells', 827, 1698, 29, { rot: -90, w: 213 });
  tx('0 (' + M + ')', 860, 1859, 25, { w: 37 });
  tx('+6', 904, 1859, 25, { w: 19 });
  tx('+16 (' + M + ')', 960, 1859, 25, { w: 55 });
  tx('+18', 1012, 1859, 25, { w: 27 });
  tx('+30 (' + M + ')', 1065, 1859, 25, { w: 55 });
  tx('+32', 1116, 1859, 25, { w: 28 });
  tx('Months', 982, 1884, 25, { w: 54 });
  line(810, 1897, 1130, 1897, '#555', 1);
  box(818, 1901, 18, 14, 'border:1px solid #333;background:linear-gradient(90deg,#2E86C9,#EAF4FB)');
  tx('Expanding', 840, 1909, 17, { a: 'l', w: 54 });
  box(902, 1901, 18, 14, 'border:1px solid #333;background:linear-gradient(90deg,#FFD400,#E8501E)');
  tx('Contracting', 923, 1909, 17, { a: 'l', w: 59 });
  box(990, 1901, 18, 14, 'border:1px solid #333;background:linear-gradient(90deg,#6CC24A,#1F6B34)');
  tx('Stable', 1012, 1909, 17, { a: 'l', w: 32 });
  box(1048, 1901, 18, 14, 'border:1px solid #333;background:linear-gradient(90deg,#222,#eee)');
  tx('Non-shared', 1070, 1909, 17, { a: 'l', w: 59 });
}

// ---------- panel G
const hexagon = document.createElement('canvas');
hexagon.width = 15; hexagon.height = 15;
{
  const h = hexagon.getContext('2d');
  h.fillStyle = pink; h.beginPath();
  [[7.5,0],[14,3.7],[14,11.3],[7.5,15],[1,11.3],[1,3.7]].forEach((p, i) => i ? h.lineTo(p[0], p[1]) : h.moveTo(p[0], p[1]));
  h.closePath(); h.fill();
}
addChart(874, 1079, 1158, 1293, [50, 14, 4, 14], {
  type: 'scatter',
  data: { datasets: [
    { data: zip(gV2Slots, gV2), backgroundColor: lav, pointRadius: 7.5, borderWidth: 0, clip: false },
    { data: zip(gG9Slots, gG9), backgroundColor: pink, pointRadius: 7.5, borderWidth: 0, clip: false },
    { data: zip(gG2Slots, gG2), backgroundColor: pink, pointStyle: 'rect', pointRadius: 10.5, borderWidth: 0, clip: false },
    { data: zip(gG8Slots, gG8), backgroundColor: pink, pointStyle: 'triangle', pointRadius: 9.5, borderWidth: 0, clip: false },
    { data: zip(gG4Slots, gG4), backgroundColor: pink, pointStyle: 'rectRot', pointRadius: 8, borderWidth: 0, clip: false },
    { data: zip(gG5Slots, gG5), pointStyle: hexagon, pointRadius: 7, clip: false },
    { data: zip(gG3Slots, gG3), backgroundColor: pink, pointStyle: 'triangle', rotation: 180, pointRadius: 9.5, borderWidth: 0, clip: false },
    { data: [{ x: gDividers[0], y: 0 }, { x: gDividers[0], y: 100 }], showLine: true, borderColor: '#111', borderWidth: 1.6, borderDash: [2, 2], pointRadius: 0 },
    { data: [{ x: gDividers[1], y: 0 }, { x: gDividers[1], y: 100 }], showLine: true, borderColor: '#111', borderWidth: 1.6, borderDash: [2, 2], pointRadius: 0 }
  ] },
  options: { plugins: { minorTicks: { step: 5, len: 5 } }, scales: { x: slotAxis(.4, 24.9, gTickSlots, 8), y: axis(0, 100, 20, 22, 9, 3) } }
});
addChart(1239, 1077, 1325, 1291, [50, 14, 6, 30], {
  type: 'line',
  data: { labels: gMonths, datasets: [
    { data: gDivNeg, borderColor: '#222', borderWidth: 1, backgroundColor: pink, pointRadius: 5.5, pointBorderWidth: 0 },
    { data: gDivPos, borderColor: '#222', borderWidth: 1, backgroundColor: lav, pointRadius: 5.5, pointBorderWidth: 0 }
  ] },
  options: {
    plugins: { minorTicks: { step: 2.5, len: 5 } },
    scales: {
      x: { type: 'category', offset: true, grid: { drawOnChartArea: false, color: axisInk, tickLength: 8 }, border: { color: axisInk }, ticks: { font: { size: 18 }, padding: 4, color: ink } },
      y: axis(0, 15, 5, 22, 9, 3)
    }
  }
});
tx('Subject 066', 1105, 1023, 32, { w: 156 });
line(882, 1047, 1325, 1047, ink, 2);
tx('% TCR&gamma; repertoire', 810, 1182, 26, { rot: -90, w: 188 });
tx('Diversity Index', 1190, 1180, 26, { rot: -90, w: 151 });
[[880.5,0],[890.5,1],[904.8,2],[922.5,0],[932,1],[946,2],[963.5,0],[973,1],[987.8,2]].forEach(a => tx(gMonths[a[1]], a[0], a[1] === 1 ? 1325 : 1311, 20, { w: a[1] ? 16 : 8 }));
[[1024.5,0],[1078.5,1],[1132.6,2]].forEach(a => tx(gMonths[a[1]], a[0], 1311, 20, { w: a[1] ? 16 : 8 }));
tx('Months', 1016, 1338, 20, { w: 57 });
tx('Months', 1282, 1337, 20, { w: 57 });
legendDot(1245, 1269, 1082, pink, 5);
tx('V&delta;2-', 1282, 1082, 20, { a: 'l', w: 36 });
legendDot(1245, 1269, 1113, lav, 5);
tx('V&gamma;9/V&delta;2+', 1282, 1113, 20, { a: 'l', w: 74 });
// symbol key
svg('polygon', { fill: pink, points: '922,1366 930,1381 914,1381' });
svg('polygon', { fill: pink, points: '952,1366 958,1369.5 958,1376.5 952,1380 946,1376.5 946,1369.5' });
svg('polygon', { fill: pink, points: '982,1366 990,1373 982,1380 974,1373' });
svg('polygon', { fill: pink, points: '1004,1366 1020,1366 1012,1381' });
svg('rect', { fill: pink, x: 1035, y: 1366, width: 15, height: 14 });
svg('circle', { fill: pink, cx: 1072, cy: 1373, r: 7.5 });
svg('circle', { fill: lav, cx: 1102.5, cy: 1373, r: 7.5 });
[['&gamma;8',925],['&gamma;5',954],['&gamma;4',982],['&gamma;3',1012.5],['&gamma;2',1042.6],['&gamma;9',1074],['&gamma;9',1102]].forEach(a => tx(a[0], a[1], 1397, 20, { w: 18 }));
line(906, 1413, 1082, 1413, ink, 3);
line(1090, 1413, 1113, 1413, ink, 3);
tx('V&delta;2<sup>neg</sup>', 999, 1429, 24, { w: 60 });
tx('V&delta;2<sup>+</sup>', 1102, 1429, 24, { w: 43 });

// ---------- panel H
const blueLine = '#3C4FA8', blueFill = 'rgba(60,70,170,.5)', redLine = '#EE2D3D', redFill = 'rgba(230,40,60,.55)';
const orangeLine = '#F47B20', orangeFill = 'rgba(245,140,60,.42)', blackFill = 'rgba(70,70,70,.55)';
const flowTicksX = flowMajorX.concat(flowMinorX);
function flowGridAxis(values, major, thick) {
  return {
    type: 'linear', min: 0, max: 100,
    afterBuildTicks: s => { s.ticks = values.map(v => ({ value: v })); },
    grid: { color: c => c.tick && major.includes(c.tick.value) ? '#DDDDDD' : 'rgba(0,0,0,0)', lineWidth: c => c.tick && c.tick.value === thick ? 5 : 1.2, tickColor: '#000', tickWidth: 1, tickLength: 3 },
    border: { color: '#222', width: 1 },
    ticks: { callback: () => '', autoSkip: false, padding: 0 }
  };
}
function flowPanel(l, dots, rightColor) {
  addChart(l, 1632, l + 191, 1823, [4, 0, 0, 4], {
    type: 'scatter',
    data: { datasets: dots.map(d => ({ data: zip(d[0], d[1]), backgroundColor: d[2], pointRadius: d[3], borderWidth: 0 })) },
    options: { scales: { x: flowGridAxis(flowTicksX, flowMajorX, 17.5), y: flowGridAxis(flowMajorY, flowMajorY, 18.3) } }
  });
  line(l, 1632, l + 191, 1632, '#222', 1);
  line(l + 191, 1632, l + 191, 1823, rightColor, 1);
}
function topHist(l, series, stepped) {
  const x = flowGridAxis(flowMajorX, flowMajorX, 17.5);
  x.grid.drawTicks = false; x.border = { display: false }; x.ticks = { display: false };
  addChart(l, 1577, l + 191, 1632, [0, 0, 0, 0], {
    type: 'line',
    data: { datasets: series.map(s => ({ data: zip(histX, s[0]), stepped: stepped, borderColor: s[1], backgroundColor: s[2], borderWidth: 1.2, pointRadius: 0, fill: 'origin' })) },
    options: { scales: { x: x, y: hiddenAxis(0, 100) } }
  });
}
function rightHist(l, r, xMax, series, stepped) {
  const y = flowGridAxis(flowMajorY, flowMajorY, 18.3);
  y.grid.drawTicks = false; y.border = { display: false }; y.ticks = { display: false };
  addChart(l, 1632, r, 1823, [0, 0, 0, 0], {
    type: 'line',
    data: { datasets: series.map(s => ({ data: s[0].map((v, i) => ({ x: v, y: histY[i] })), stepped: stepped, borderColor: s[1], backgroundColor: s[2], borderWidth: 1.2, pointRadius: 0, fill: 'origin' })) },
    options: { indexAxis: 'y', scales: { x: hiddenAxis(0, xMax), y: y } }
  });
}
topHist(44, [[p1Red, redLine, redFill], [p1Blue, blueLine, blueFill]], true);
topHist(295, [[p2Blue, blueLine, blueFill], [p2Orange, orangeLine, orangeFill]], false);
topHist(546, [[p3Black, '#000', blackFill], [p3Orange, orangeLine, orangeFill]], false);
rightHist(235, 295, 113, [[p1RedR, redLine, redFill], [p1BlueR, blueLine, blueFill]], true);
rightHist(486, 546, 113, [[p2BlueR, blueLine, blueFill], [p2OrangeR, orangeLine, orangeFill]], false);
rightHist(737, 793, 108, [[p3BlackR, '#000', blackFill], [p3OrangeR, orangeLine, orangeFill]], false);
flowPanel(44, [[redX, redY, '#EE5060', .8], [blueX, blueY, '#3C4FA8', .8], [blackCoreX, blackCoreY, '#5A6CC0', .7]], '#B35AA0');
flowPanel(295, [[blackCoreX, blackCoreY, '#F48A30', 1.6], [blueX, blueY, '#3C4FA8', 1.2], [orangeX, orangeY, '#F48A30', 1.4], [tailX, tailY, '#F9B47E', .8]], '#5A5AB0');
flowPanel(546, [[blackCoreX, blackCoreY, '#000', 3], [tailX, tailY, '#222', .9], [orangeX, orangeY, '#F48A30', 2.2]], '#8B6A4A');

tx('Subject 179', 404, 1506, 34, { w: 169 });
tx('CD27<sup>+</sup>CX<sub>3</sub>CR1<sup>+</sup> V&delta;1<sup>+</sup> T cells', 401, 1543, 30, { w: 346 });
line(21, 1564, 760, 1564, ink, 2);
arrow(29, 1828, 29, 1629, 1.4, 14);
arrow(45, 1838, 758, 1840, 1.4, 16);
tx('V&delta;1', 15, 1807, 26, { rot: -90, w: 37 });
tx('&gamma;&delta;TCR', 46, 1852, 27, { a: 'l', w: 71 });
const redT = '#EE2D3D', blueT = '#2E4A9E', orangeT = '#F47B20';
tx('0 (' + M + ')', 96, 1754, 29, { w: 53, c: redT });
tx('Months', 48, 1782, 28, { a: 'l', w: 75, c: redT });
arrow(127, 1756, 183, 1756, 2.6, 8);
tx('+12', 207, 1755, 29, { w: 38, c: blueT });
tx('+12', 330, 1755, 29, { w: 39, c: blueT });
arrow(352, 1755, 441, 1755, 2.6, 8);
tx('+24', 462, 1755, 29, { w: 39, c: orangeT });
tx('+16(' + M + ')', 392, 1771, 29, { w: 74 });
tx('+24', 581, 1757, 29, { w: 39, c: orangeT });
arrow(603, 1755, 689, 1755, 2.6, 8);
tx('+32', 713, 1755, 29, { w: 39 });
tx('+30(' + M + ')', 642, 1771, 29, { w: 74 });
</script>
</body>
</html>
